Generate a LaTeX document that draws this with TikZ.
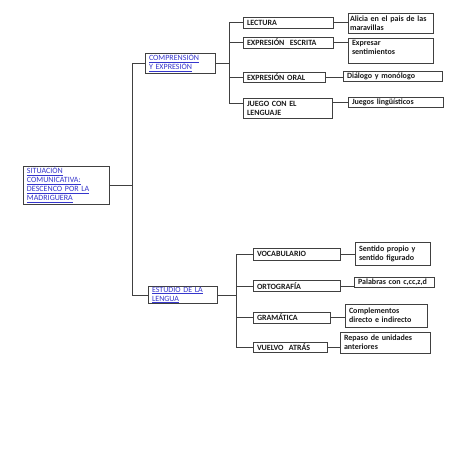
\documentclass[tikz,border=0pt]{standalone}
\usepackage{fontspec}
\setmainfont{Carlito}
\usepackage{tikz}
\usepackage{xcolor}
\definecolor{ink}{HTML}{1A1A1A}
\definecolor{boxgray}{HTML}{404040}
\definecolor{linkblue}{HTML}{3535CC}
\newcommand{\boxfont}{\fontsize{8}{9}\selectfont\bfseries}
\newcommand{\linkfont}{\fontsize{8}{9}\selectfont}
\newcommand{\lnk}[1]{\underline{#1}}
\tikzset{
  linkbox/.style={draw=boxgray,fill=white,line width=0.6pt,align=left,
                  inner xsep=4pt,inner ysep=1pt,font=\linkfont,text=linkblue},
  itembox/.style={draw=boxgray,fill=white,line width=0.6pt,align=left,
                  inner xsep=4pt,inner ysep=1pt,font=\boxfont,text=ink},
  branch/.style={draw=boxgray,line width=0.6pt}
}
\begin{document}
\begin{tikzpicture}[x=1pt,y=-1pt]
    \path[use as bounding box] (0,0) rectangle (453,453);
    \coordinate (trunkA) at (132,0);
    \coordinate (trunkB) at (229,0);
    \coordinate (trunkC) at (236,0);

    \node[linkbox,text width=78pt,minimum height=36pt] (root) at (66,185)
      {\lnk{SITUACIÓN}\\\lnk{COMUNICATIVA:}\\\lnk{DESCENCO POR LA}\\\lnk{MADRIGUERA}};
    \node[linkbox,text width=62pt,minimum height=20pt] (comp) at (180,63)
      {\lnk{COMPRENSIÓN}\\\lnk{Y EXPRESIÓN}};
    \node[linkbox,text width=61pt,minimum height=16pt,inner ysep=0.5pt] (estudio) at (182.5,295)
      {\lnk{ESTUDIO DE LA}\\\lnk{LENGUA}};

    \node[itembox,text width=82pt,minimum height=11pt] (lectura) at (288,22.5) {LECTURA};
    \node[itembox,text width=82pt,minimum height=11pt] (ee) at (288,42.5) {EXPRESIÓN~~ESCRITA};
    \node[itembox,text width=74pt,minimum height=10pt] (eo) at (284,77.5) {EXPRESIÓN ORAL};
    \node[itembox,text width=81pt,minimum height=20pt] (juego) at (287.5,108)
      {JUEGO CON EL\\LENGUAJE};

    \node[itembox,text width=82pt,inner xsep=1.5pt,minimum height=20pt] (alicia) at (391,23)
      {\mbox{Alicia en el pais de las}\\maravillas};
    \node[itembox,text width=77pt,minimum height=25pt] (expresar) at (390.5,50.5)
      {Expresar\\sentimientos\\[-2pt]\mbox{}};
    \node[itembox,text width=91pt,minimum height=10pt] (dialogo) at (392.5,76.5)
      {Diálogo y monólogo};
    \node[itembox,text width=87pt,minimum height=10pt] (juegos) at (395.5,102.5)
      {Juegos lingüísticos};

    \node[itembox,text width=79pt,minimum height=12pt] (voc) at (296.5,254) {VOCABULARIO};
    \node[itembox,text width=79pt,minimum height=11pt] (ort) at (296.5,286) {ORTOGRAFÍA};
    \node[itembox,text width=69pt,minimum height=11pt] (gram) at (291.5,317.5) {GRAMÁTICA};
    \node[itembox,text width=66pt,minimum height=10pt] (vuelvo) at (290,347) {VUELVO~~ATRÁS};

    \node[itembox,text width=67pt,minimum height=23pt] (sentido) at (392.5,253.5)
      {Sentido propio y\\sentido figurado};
    \node[itembox,text width=72pt,minimum height=10pt] (palabras) at (394,282.5)
      {Palabras con c,cc,z,d};
    \node[itembox,text width=74pt,minimum height=23pt] (compl) at (386,315.5)
      {Complementos\\directo e indirecto};
    \node[itembox,text width=82pt,minimum height=21pt] (repaso) at (385,342.5)
      {Repaso de unidades\\anteriores};

    \draw[branch] (root.east) -- (root.east -| trunkA) |- (comp.west);
    \draw[branch] (root.east -| trunkA) |- (estudio.west);

    \draw[branch] (comp.east) -- (comp.east -| trunkB) |- (lectura.west);
    \foreach \c in {ee,eo}
      \draw[branch] (comp.east -| trunkB) |- (\c.west);
    \draw[branch] (comp.east -| trunkB) |- ([yshift=5pt]juego.west);

    \draw[branch] (estudio.east) -- (estudio.east -| trunkC) |- (voc.west);
    \foreach \c in {ort,gram,vuelvo}
      \draw[branch] (estudio.east -| trunkC) |- (\c.west);

    \foreach \a/\b in {lectura/alicia,ee/expresar,eo/dialogo,voc/sentido,
                       ort/palabras,gram/compl,vuelvo/repaso}
      \draw[branch] (\a.east) -- (\a.east -| \b.west);
    \draw[branch] (juegos.west -| juego.east) -- (juegos.west);
  \end{tikzpicture}
\end{document}
